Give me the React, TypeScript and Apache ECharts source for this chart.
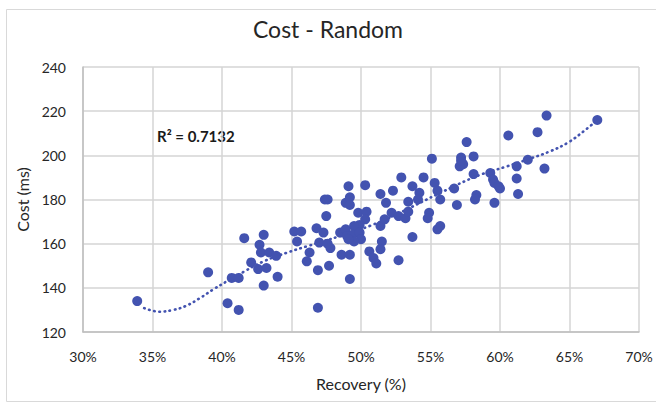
import React, { useEffect, useRef } from "react";
import * as echarts from "echarts";

const chartTitle = "Cost - Random";
const xAxisName = "Recovery (%)";
const yAxisName = "Cost (ms)";
const rSquaredLabel = "R² = 0.7132";

// Recovery (%) of each run
const recovery = [
  33.9, 39.0, 40.4, 41.2, 41.6, 40.7, 41.2, 43.0, 42.7, 42.8, 43.4, 43.9, 42.1, 42.6, 43.2, 44.0, 43.0,
  45.2, 45.7, 45.4, 46.3, 46.1, 46.9, 47.7, 46.9, 46.8, 47.3, 47.0, 47.6, 47.8, 47.5, 47.4, 47.6, 48.5,
  48.9, 48.6, 49.2, 48.9,
  49.1, 49.2, 49.2, 50.3, 49.8, 50.4, 50.3, 49.9, 49.5, 49.0, 49.4, 49.9, 50.0, 49.5, 49.1, 49.2, 51.4,
  52.3, 51.8, 52.9, 51.4, 51.7, 52.2, 52.7, 53.2, 53.4, 53.4, 51.5, 51.4, 50.6, 50.9, 51.1, 52.7, 53.7,
  53.7, 54.2, 54.5, 55.1, 54.1, 55.3, 55.5, 55.7, 54.9, 54.8, 55.7, 55.5,
  57.6, 57.2, 57.35, 57.1, 58.1, 57.2, 58.1, 56.7, 56.9, 58.3, 58.2, 59.3, 59.5, 59.6, 59.9, 60.0, 59.6,
  60.6, 61.2, 61.2, 61.3, 62.0, 62.7, 63.35, 63.2, 67.0,
];
// Cost (ms) of each run
const cost = [
  134, 147, 133, 130, 162.5, 144.5, 144.5, 164, 159.5, 156, 156, 154.5, 151.5, 148.5, 149, 145, 141,
  165.5, 165.5, 161, 156, 152, 148, 150, 131, 167, 165, 160.5, 160, 158, 172.5, 180, 180, 165,
  166.5, 155, 144, 178.5,
  186, 181, 177.5, 186.5, 174, 174.5, 171, 168.5, 168, 163.5, 164, 165, 162, 161, 162, 155, 182.5,
  184, 178.5, 190, 168, 171, 174, 172.5, 171.5, 174.5, 179, 161, 157.5, 156.5, 153.5, 151, 152.5, 163,
  186, 183, 190, 198.5, 180, 187.5, 184, 180, 174, 171.5, 168, 166.5,
  206, 199, 196, 195, 199.5, 197.5, 191.5, 185, 177.5, 182, 180, 192, 189, 187.5, 186, 185, 178.5,
  209, 195, 189.5, 182.5, 198, 210.5, 218, 194, 216,
];

// Trendline
const trendRecovery = [
  34.4, 35.5, 36.5, 37.4, 38.4, 39.4, 40.5, 41.6, 43.0, 44.7, 46.1, 48.5, 50.7, 52.8, 55.7, 58.5,
  60.5, 62.1, 63.6, 64.9, 66.2, 67.0,
];
const trendCost = [
  130.8, 129.2, 130.0, 131.8, 135.3, 139.4, 143.5, 147.4, 152.0, 156.0, 158.8, 163.5, 168.2, 174.0,
  183.0, 191.0, 195.0, 198.4, 201.8, 205.8, 211.8, 216.0,
];

const xMin = 30;
const xMax = 70;
const xStep = 5;
const yMin = 120;
const yMax = 240;
const yStep = 20;

const FONT = "Lato, 'Liberation Sans', sans-serif";
const POINT = "#4353B0";

export default function App() {
  const ref = useRef<HTMLDivElement>(null);

  useEffect(() => {
    if (!ref.current) return;
    const chart = echarts.init(ref.current, undefined, { renderer: "svg" });
    const points = recovery.map((r, i) => [r, cost[i]]);
    const trend = trendRecovery.map((r, i) => [r, trendCost[i]]);
    chart.setOption({
      animation: false,
      backgroundColor: "#ffffff",
      textStyle: { fontFamily: FONT },
      title: {
        text: chartTitle,
        left: "center",
        top: 12,
        textStyle: { fontFamily: FONT, fontSize: 23, fontWeight: "normal", color: "#262626" },
      },
      grid: { left: 83, right: 17, top: 67, bottom: 71 },
      xAxis: {
        type: "value",
        min: xMin,
        max: xMax,
        interval: xStep,
        name: xAxisName,
        nameLocation: "middle",
        nameGap: 43,
        nameTextStyle: { fontFamily: FONT, fontSize: 16, color: "#262626" },
        axisLine: { show: true, lineStyle: { color: "#bfbfbf", width: 1.5 } },
        axisTick: { show: false },
        axisLabel: {
          formatter: (v: number) => `${v}%`,
          fontFamily: FONT,
          fontSize: 14,
          color: "#262626",
          margin: 17,
        },
        splitLine: { show: true, lineStyle: { color: "#d4d4d4", width: 1.5 } },
      },
      yAxis: {
        type: "value",
        min: yMin,
        max: yMax,
        interval: yStep,
        name: yAxisName,
        nameLocation: "middle",
        nameGap: 52,
        nameRotate: 90,
        nameTextStyle: { fontFamily: FONT, fontSize: 16, color: "#262626" },
        axisLine: { show: true, lineStyle: { color: "#bfbfbf", width: 1.5 } },
        axisTick: { show: false },
        axisLabel: { fontFamily: FONT, fontSize: 14, color: "#262626", margin: 17 },
        splitLine: { show: true, lineStyle: { color: "#d4d4d4", width: 1.5 } },
      },
      graphic: [
        {
          type: "rect",
          shape: { x: 6.5, y: 9.5, width: 700, height: 392 },
          style: { fill: "none", stroke: "#d9d9d9", lineWidth: 1 },
          silent: true,
        },
        {
          type: "text",
          left: 157,
          top: 128,
          style: {
            text: rSquaredLabel,
            font: `bold 15px ${FONT}`,
            fill: "#1a1a1a",
          },
        },
      ],
      series: [
        {
          type: "line",
          data: trend,
          smooth: 0.4,
          showSymbol: false,
          symbol: "none",
          z: 1,
          lineStyle: { color: POINT, width: 2.6, type: [0.6, 4.6], cap: "round" },
        },
        {
          type: "scatter",
          data: points,
          symbol: "circle",
          symbolSize: 10,
          z: 3,
          itemStyle: { color: POINT, opacity: 1 },
        },
      ],
    });
    return () => chart.dispose();
  }, []);

  return (
    <div
      ref={ref}
      style={{ position: "fixed", left: 0, top: 0, width: 656, height: 403, background: "#fff" }}
    />
  );
}
